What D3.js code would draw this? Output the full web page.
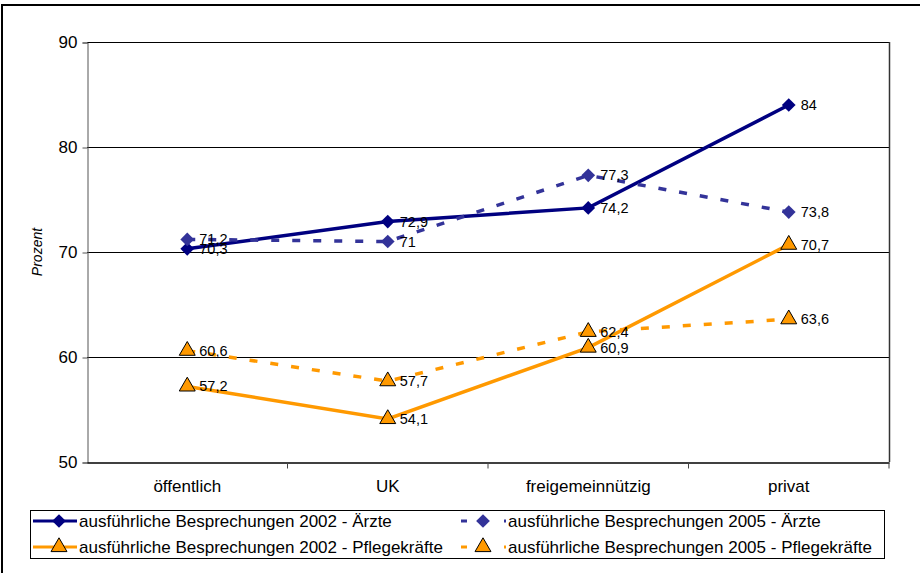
<!DOCTYPE html>
<html>
<head>
<meta charset="utf-8">
<script src="https://cdn.jsdelivr.net/npm/d3@7"></script>
<style>
  body { margin: 0; background: #fff; }
  svg text { font-family: "Liberation Sans", Arial, sans-serif; fill: #000; }
</style>
</head>
<body>
<svg id="chart" width="920" height="573"></svg>
<script>
var categories = ["öffentlich", "UK", "freigemeinnützig", "privat"];
var aerzte_2002 = [70.3, 72.9, 74.2, 84];
var aerzte_2005 = [71.2, 71, 77.3, 73.8];
var pflege_2002 = [57.2, 54.1, 60.9, 70.7];
var pflege_2005 = [60.6, 57.7, 62.4, 63.6];
var y_ticks = [50, 60, 70, 80, 90];

var series = [
   {"name": "ausführliche Besprechungen 2002 - Ärzte", "values": aerzte_2002, "color": "#000080", "dash": null, "marker": "diamond"},
   {"name": "ausführliche Besprechungen 2005 - Ärzte", "values": aerzte_2005, "color": "#333399", "dash": "8 13", "marker": "diamond"},
   {"name": "ausführliche Besprechungen 2002 - Pflegekräfte", "values": pflege_2002, "color": "#FF9900", "dash": null, "marker": "triangle"},
   {"name": "ausführliche Besprechungen 2005 - Pflegekräfte", "values": pflege_2005, "color": "#FF9900", "dash": "8 13", "marker": "triangle"}
];

var svg_canvas = d3.select("#chart");
var plot = {left: 87, right: 889, top: 42, bottom: 462};

var x = d3.scaleBand().domain(categories).range([plot.left, plot.right]);
var y = d3.scaleLinear().domain([50, 90]).range([plot.bottom, plot.top]);
var fmt = function(v) { return String(v).replace(".", ","); };

// outer frame (top + left only visible)
svg_canvas.append("line").attr("x1", 2).attr("x2", 920).attr("y1", 5).attr("y2", 5)
   .attr("stroke", "#000").attr("stroke-width", 2);
svg_canvas.append("line").attr("x1", 2).attr("x2", 2).attr("y1", 4).attr("y2", 573)
   .attr("stroke", "#000").attr("stroke-width", 2);

// gridlines
svg_canvas.append("g").selectAll("line.grid").data(y_ticks.filter(function(d) { return d > 50; }))
   .enter().append("line").attr("class", "grid")
   .attr("x1", plot.left).attr("x2", plot.right)
   .attr("y1", function(d) { return y(d) + 0.5; }).attr("y2", function(d) { return y(d) + 0.5; })
   .attr("stroke", "#000").attr("stroke-width", 1);

// right frame of plot area
svg_canvas.append("line").attr("x1", plot.right + 0.5).attr("x2", plot.right + 0.5)
   .attr("y1", plot.top).attr("y2", plot.bottom)
   .attr("stroke", "#333").attr("stroke-width", 1.5);

// y axis
var y_axis = svg_canvas.append("g").attr("transform", "translate(" + (plot.left + 0.5) + ",0.5)")
   .call(d3.axisLeft(y).tickValues(y_ticks).tickSize(5).tickPadding(5).tickFormat(d3.format("d")));
y_axis.select(".domain").attr("stroke", "#555");
y_axis.selectAll(".tick line").attr("stroke", "#555");
y_axis.selectAll("text").style("font-size", "17px").attr("fill", "#000");

// x axis
var x_axis = svg_canvas.append("g").attr("transform", "translate(0," + (plot.bottom + 0.5) + ")")
   .call(d3.axisBottom(x).tickSize(0).tickPadding(17));
x_axis.select(".domain").attr("stroke", "#000").attr("stroke-width", 1.5);
x_axis.selectAll("text").style("font-size", "17px").attr("fill", "#000");
x_axis.selectAll("line.bnd").data(categories).enter().append("line").attr("class", "bnd")
   .attr("x1", function(d) { return x(d) + x.bandwidth(); })
   .attr("x2", function(d) { return x(d) + x.bandwidth(); })
   .attr("y1", 0).attr("y2", 6).attr("stroke", "#444");

// y label
svg_canvas.append("text").attr("transform", "translate(42," + y(70) + ") rotate(-90)")
   .attr("text-anchor", "middle").style("font-size", "14px").style("font-style", "italic")
   .text("Prozent");

var diamond = d3.symbol().type(d3.symbolDiamond2).size(120);
var triangle = d3.symbol().type(d3.symbolTriangle).size(110);

function draw_marker(g, s, cx, cy) {
   if (s.marker == "diamond") {
      g.append("path").attr("d", diamond()).attr("transform", "translate(" + cx + "," + cy + ")")
         .attr("fill", s.color);
   } else {
      g.append("path").attr("d", triangle()).attr("transform", "translate(" + cx + "," + cy + ")")
         .attr("fill", s.color).attr("stroke", "#000").attr("stroke-width", 1);
   }
}

var line_gen = d3.line()
   .x(function(d, i) { return x(categories[i]) + x.bandwidth() / 2; })
   .y(function(d) { return y(d); });

series.forEach(function(s) {
   svg_canvas.append("g").append("path").datum(s.values).attr("d", line_gen)
      .attr("fill", "none").attr("stroke", s.color).attr("stroke-width", 3.5)
      .attr("stroke-dasharray", s.dash);
});
series.forEach(function(s) {
   var g = svg_canvas.append("g");
   s.values.forEach(function(v, i) {
      draw_marker(g, s, x(categories[i]) + x.bandwidth() / 2, y(v));
   });
});
series.forEach(function(s) {
   svg_canvas.append("g").selectAll("text").data(s.values).enter().append("text")
      .attr("x", function(d, i) { return x(categories[i]) + x.bandwidth() / 2 + 12; })
      .attr("y", function(d) { return y(d) + 5; })
      .style("font-size", "14.5px")
      .text(function(d) { return fmt(d); });
});

// legend
var legend = svg_canvas.append("g").attr("id", "legend");
legend.append("rect").attr("x", 30.5).attr("y", 510.5).attr("width", 854).attr("height", 48)
   .attr("fill", "#fff").attr("stroke", "#000").attr("stroke-width", 1);
var legend_pos = [{"x": 33, "y": 521}, {"x": 459, "y": 521}, {"x": 33, "y": 547}, {"x": 459, "y": 547}];
series.forEach(function(s, i) {
   var p = legend_pos[i];
   var lg = legend.append("g");
   if (s.dash) {
      lg.append("line").attr("x1", p.x + 2).attr("x2", p.x + 8).attr("y1", p.y).attr("y2", p.y)
         .attr("stroke", s.color).attr("stroke-width", 3);
      lg.append("line").attr("x1", p.x + 45).attr("x2", p.x + 47).attr("y1", p.y).attr("y2", p.y)
         .attr("stroke", s.color).attr("stroke-width", 3);
      draw_marker(lg, s, p.x + 24, p.y);
      lg.append("text").attr("x", p.x + 49).attr("y", p.y + 6).style("font-size", "17px").text(s.name);
   } else {
      lg.append("line").attr("x1", p.x).attr("x2", p.x + 44).attr("y1", p.y).attr("y2", p.y)
         .attr("stroke", s.color).attr("stroke-width", 3);
      draw_marker(lg, s, p.x + 26, p.y);
      lg.append("text").attr("x", p.x + 46).attr("y", p.y + 6).style("font-size", "17px").text(s.name);
   }
});
</script>
</body>
</html>
